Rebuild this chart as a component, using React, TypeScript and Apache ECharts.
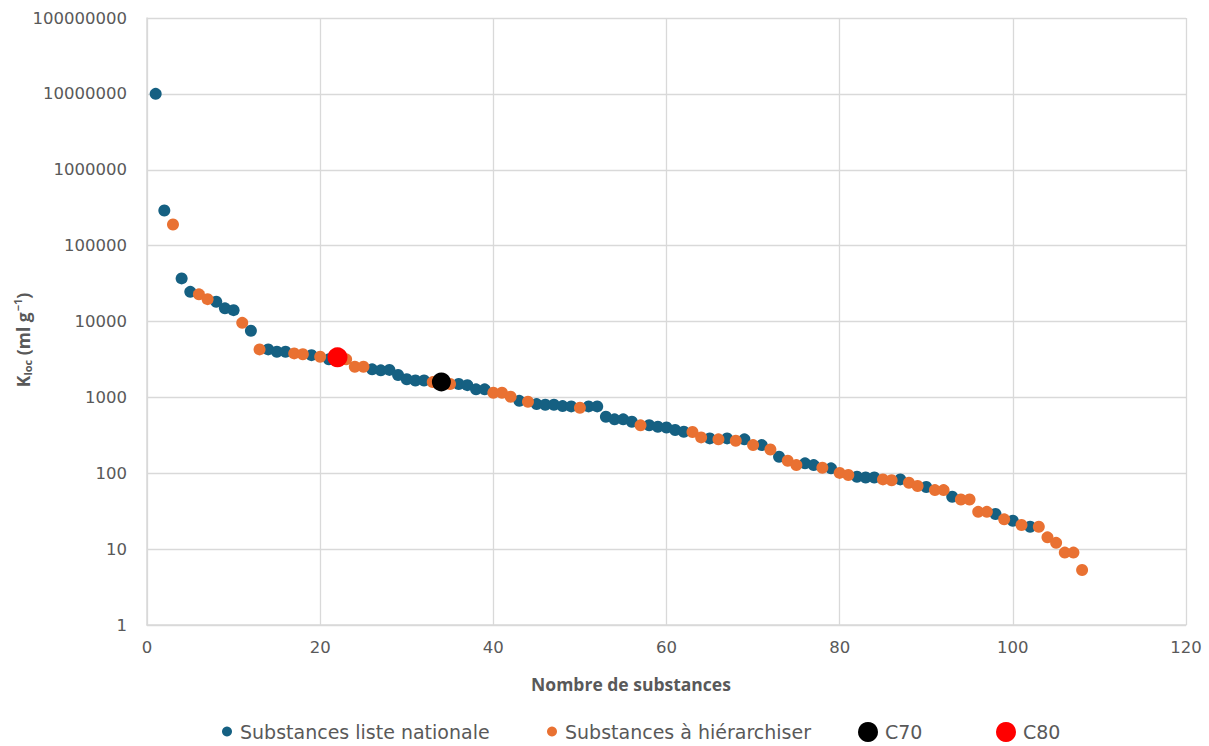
import React, { useEffect, useRef } from "react";
import * as echarts from "echarts";

// Substances liste nationale (rank, Koc)
const nationaleRank = [1, 2, 4, 5, 8, 9, 10, 12, 14, 15, 16, 19, 21, 26, 27, 28, 29, 30, 31, 32, 36, 37, 38, 39, 43, 45, 46, 47, 48, 49, 51, 52, 53, 54, 55, 56, 58, 59, 60, 61, 62, 65, 67, 69, 71, 73, 76, 77, 79, 82, 83, 84, 87, 90, 93, 98, 100, 102];
const nationaleKoc = [10000000, 290000, 37000, 24600, 18200, 14900, 14100, 7540, 4290, 3990, 3990, 3600, 3170, 2340, 2270, 2300, 1970, 1730, 1670, 1670, 1500, 1450, 1275, 1275, 900, 816, 800, 800, 768, 760, 760, 760, 555, 513, 513, 477, 430, 410, 400, 371, 353, 288, 288, 280, 235, 165, 135, 128, 116, 90, 88, 88, 83, 66, 49, 29, 23.7, 19.7];

// Substances à hiérarchiser (rank, Koc)
const hierarchRank = [3, 6, 7, 11, 13, 17, 18, 20, 23, 24, 25, 33, 35, 40, 41, 42, 44, 50, 57, 63, 64, 66, 68, 70, 72, 74, 75, 78, 80, 81, 85, 86, 88, 89, 91, 92, 94, 95, 96, 97, 99, 101, 103, 104, 105, 106, 107, 108];
const hierarchKoc = [190000, 22800, 19700, 9600, 4290, 3800, 3700, 3430, 3170, 2530, 2530, 1590, 1500, 1150, 1150, 1020, 875, 730, 428, 350, 297, 280, 268, 235, 206, 146, 128, 118, 101, 95, 83, 81, 75, 68, 60, 60, 45, 45, 31, 31, 24.7, 20.8, 19.7, 14.3, 12.1, 9.0, 9.0, 5.3];

const c70Point = [34, 1600];
const c80Point = [22, 3370];

const xTicks = { min: 0, max: 120, interval: 20 };
const yTicks = { min: 1, max: 100000000 };

const BLUE = "#156082";
const ORANGE = "#E97132";
const TEXT = "#595959";
const GRID = "#d9d9d9";
const FONT = "'Open Sans', sans-serif";
const WIDE = "'DejaVu Sans', sans-serif";

export default function App() {
  const ref = useRef<HTMLDivElement>(null);
  useEffect(() => {
    if (!ref.current) return;
    const chart = echarts.init(ref.current, undefined, { renderer: "svg" });
    const zip = (a: number[], b: number[]) => a.map((v, i) => [v, b[i]]);
    const legendBase = {
      orient: "horizontal",
      padding: 0,
      icon: "circle",
      textStyle: { fontSize: 19, color: TEXT, fontFamily: WIDE },
    };
    chart.setOption({
      animation: false,
      textStyle: { fontFamily: FONT },
      grid: { left: 147, right: 23, top: 18, bottom: 121, containLabel: false },
      xAxis: {
        type: "value",
        min: xTicks.min,
        max: xTicks.max,
        interval: xTicks.interval,
        axisLine: { show: true, lineStyle: { color: GRID, width: 1.5 } },
        axisTick: { show: false },
        splitLine: { show: true, lineStyle: { color: GRID, width: 1.3 } },
        axisLabel: { color: TEXT, fontSize: 16.5, margin: 14, fontFamily: WIDE },
      },
      yAxis: {
        type: "log",
        logBase: 10,
        min: yTicks.min,
        max: yTicks.max,
        interval: 1,
        axisLine: { show: true, lineStyle: { color: GRID, width: 1.5 } },
        axisTick: { show: false },
        splitLine: { show: true, lineStyle: { color: GRID, width: 1.3 } },
        minorSplitLine: { show: false },
        axisLabel: {
          color: TEXT,
          fontSize: 16.5,
          margin: 20,
          fontFamily: WIDE,
          formatter: (v: number) => String(Math.round(v)),
        },
      },
      legend: [
        { ...legendBase, data: ["Substances liste nationale"], left: 222, top: 722, itemWidth: 16, itemHeight: 10 },
        { ...legendBase, data: ["Substances à hiérarchiser"], left: 547, top: 722, itemWidth: 16, itemHeight: 10 },
        { ...legendBase, data: ["C70"], left: 858, top: 722, itemWidth: 24, itemHeight: 20 },
        { ...legendBase, data: ["C80"], left: 996, top: 722, itemWidth: 24, itemHeight: 20 },
      ],
      graphic: [
        {
          type: "text",
          x: 23,
          y: 340,
          rotation: Math.PI / 2,
          style: {
            text: "{a|K}{b|loc}{a| (ml g}{c|−1}{a|)}",
            align: "center",
            verticalAlign: "middle",
            fill: TEXT,
            rich: {
              a: { fontSize: 17.5, fontWeight: "bold", fill: TEXT, fontFamily: FONT, lineHeight: 24, verticalAlign: "middle" },
              b: { fontSize: 11, fontWeight: "bold", fill: TEXT, fontFamily: FONT, lineHeight: 24, verticalAlign: "bottom", padding: [0, 0, 2, 0] },
              c: { fontSize: 11, fontWeight: "bold", fill: TEXT, fontFamily: FONT, lineHeight: 24, verticalAlign: "top", padding: [1, 0, 0, 1] },
            },
          },
        },
        {
          type: "text",
          x: 631,
          y: 684,
          style: {
            text: "Nombre de substances",
            align: "center",
            verticalAlign: "middle",
            fill: TEXT,
            fontSize: 17.5,
            fontWeight: "bold",
            fontFamily: FONT,
          },
        },
      ],
      series: [
        {
          name: "Substances liste nationale",
          type: "scatter",
          data: zip(nationaleRank, nationaleKoc),
          symbol: "circle",
          symbolSize: 12,
          itemStyle: { color: BLUE, opacity: 1 },
        },
        {
          name: "Substances à hiérarchiser",
          type: "scatter",
          data: zip(hierarchRank, hierarchKoc),
          symbol: "circle",
          symbolSize: 12,
          itemStyle: { color: ORANGE, opacity: 1 },
        },
        {
          name: "C70",
          type: "scatter",
          data: [c70Point],
          symbol: "circle",
          symbolSize: 19,
          itemStyle: { color: "#000000", opacity: 1 },
        },
        {
          name: "C80",
          type: "scatter",
          data: [c80Point],
          symbol: "circle",
          symbolSize: 20,
          itemStyle: { color: "#FF0000", opacity: 1 },
        },
      ],
    });
    return () => chart.dispose();
  }, []);
  return <div ref={ref} style={{ width: 1209, height: 746, position: "absolute", left: 0, top: 0 }} />;
}
